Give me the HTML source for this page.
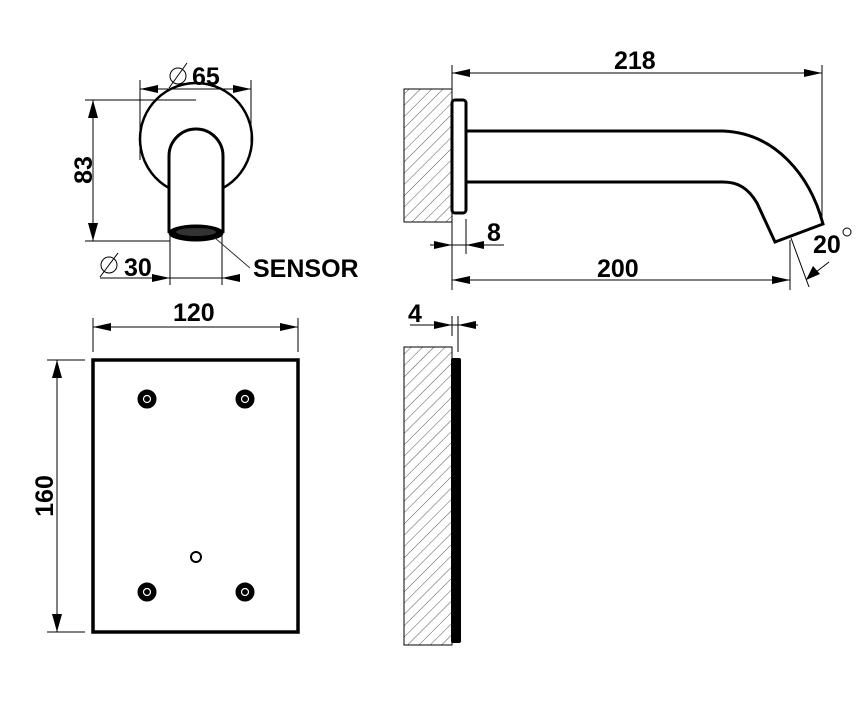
<!DOCTYPE html>
<html><head><meta charset="utf-8"><style>
html,body{margin:0;padding:0;background:#fff;}
svg{display:block;}
text{font-family:"Liberation Sans",sans-serif;font-weight:bold;fill:#000;}
</style></head><body>
<svg width="864" height="707" viewBox="0 0 864 707" xmlns="http://www.w3.org/2000/svg">
<defs>
<pattern id="h" width="8" height="8" patternUnits="userSpaceOnUse" patternTransform="rotate(45)">
<line x1="0" y1="0" x2="0" y2="8" stroke="#555" stroke-width="1"/>
</pattern>
</defs>
<g fill="none" stroke="#000">
<path d="M169,188 A56,56 0 1 1 223,188" stroke-width="2.5"/>
<path d="M169,233 L169,156 A27,27 0 0 1 223,156 L223,233" stroke-width="3"/>
<ellipse cx="196" cy="233" rx="27" ry="8" fill="#000" stroke-width="1"/>
<ellipse cx="196" cy="232" rx="20" ry="4" fill="#333" stroke="none"/>
<line x1="85" y1="100" x2="196" y2="100" stroke-width="1"/>
<line x1="85" y1="241" x2="170" y2="241" stroke-width="1"/>
<line x1="93" y1="100" x2="93" y2="241" stroke-width="1"/>
<line x1="140" y1="80" x2="140" y2="160" stroke-width="1"/>
<line x1="251" y1="80" x2="251" y2="150" stroke-width="1"/>
<line x1="140" y1="89" x2="251" y2="89" stroke-width="1"/>
<circle cx="178" cy="76" r="8" stroke-width="1"/>
<line x1="169" y1="88" x2="187" y2="63" stroke-width="1"/>
<line x1="170" y1="235" x2="170" y2="285" stroke-width="1"/>
<line x1="222" y1="235" x2="222" y2="285" stroke-width="1"/>
<line x1="100" y1="278" x2="240" y2="278" stroke-width="1"/>
<circle cx="109" cy="265" r="8" stroke-width="1"/>
<line x1="100" y1="277" x2="118" y2="253" stroke-width="1"/>
<path d="M215,238 L250,268" stroke-width="1" stroke="#333"/>
<rect x="404" y="89" width="48" height="133" fill="url(#h)" stroke-width="1"/>
<rect x="452" y="100" width="14" height="113" rx="3" fill="#fff" stroke-width="3"/>
<line x1="467" y1="131" x2="723" y2="131" stroke-width="3"/>
<line x1="467" y1="182" x2="723" y2="182" stroke-width="3"/>
<path d="M723,131 C775,133 810,175 823,224 L775,242 L757,203 C748,188 738,182 723,182" stroke-width="3"/>
<line x1="452" y1="65" x2="452" y2="100" stroke-width="1"/>
<line x1="822" y1="65" x2="822" y2="218" stroke-width="1"/>
<line x1="452" y1="73" x2="822" y2="73" stroke-width="1"/>
<line x1="466" y1="219" x2="466" y2="254" stroke-width="1"/>
<line x1="430" y1="245" x2="504" y2="245" stroke-width="1"/>
<line x1="452" y1="222" x2="452" y2="290" stroke-width="1"/>
<line x1="790" y1="240" x2="790" y2="290" stroke-width="1"/>
<line x1="452" y1="280" x2="790" y2="280" stroke-width="1"/>
<line x1="791" y1="238" x2="809" y2="287" stroke-width="1"/>
<line x1="807" y1="279" x2="829" y2="262" stroke-width="1"/>
<circle cx="847" cy="232" r="4" stroke-width="1"/>
<rect x="93" y="360" width="205" height="272" stroke-width="3.5"/>
<line x1="93" y1="318" x2="93" y2="352" stroke-width="1"/>
<line x1="298" y1="318" x2="298" y2="352" stroke-width="1"/>
<line x1="93" y1="327" x2="298" y2="327" stroke-width="1"/>
<line x1="47" y1="360" x2="85" y2="360" stroke-width="1"/>
<line x1="47" y1="632" x2="85" y2="632" stroke-width="1"/>
<line x1="57" y1="360" x2="57" y2="632" stroke-width="1"/>
<g stroke-width="1">
<circle cx="147" cy="399" r="9" fill="#000"/><circle cx="147" cy="399" r="3.5" stroke="#fff" stroke-width="1.2"/>
<circle cx="245" cy="399" r="9" fill="#000"/><circle cx="245" cy="399" r="3.5" stroke="#fff" stroke-width="1.2"/>
<circle cx="147" cy="592" r="9" fill="#000"/><circle cx="147" cy="592" r="3.5" stroke="#fff" stroke-width="1.2"/>
<circle cx="245" cy="592" r="9" fill="#000"/><circle cx="245" cy="592" r="3.5" stroke="#fff" stroke-width="1.2"/>
</g>
<circle cx="196" cy="557" r="5" stroke-width="2"/>
<rect x="404" y="347" width="48" height="298" fill="url(#h)" stroke-width="1"/>
<rect x="451" y="358" width="10" height="285" rx="2" fill="#000" stroke="none"/>
<line x1="452" y1="316" x2="452" y2="336" stroke-width="1"/>
<line x1="458" y1="316" x2="458" y2="352" stroke-width="1"/>
<line x1="410" y1="325" x2="478" y2="325" stroke-width="1"/>
</g>
<g fill="#000" stroke="none">
<polygon points="93,100 88,118 98,118"/><polygon points="93,241 88,223 98,223"/>
<polygon points="140,89 158,85 158,93"/><polygon points="251,89 233,85 233,93"/>
<polygon points="170,278 152,274 152,282"/><polygon points="222,278 240,274 240,282"/>
<polygon points="452,73 470,69 470,77"/><polygon points="822,73 804,69 804,77"/>
<polygon points="452,245 434,241 434,249"/><polygon points="466,245 484,241 484,249"/>
<polygon points="452,280 470,276 470,284"/><polygon points="790,280 772,276 772,284"/>
<polygon points="806,280 813,266 820,274"/>
<polygon points="93,327 111,323 111,331"/><polygon points="298,327 280,323 280,331"/>
<polygon points="57,360 52,378 62,378"/><polygon points="57,632 52,614 62,614"/>
<polygon points="452,325 434,321 434,329"/><polygon points="458,325 476,321 476,329"/>
</g>
<g font-size="25">
<text x="192" y="85">65</text>
<text x="124" y="276">30</text>
<text x="253" y="277">SENSOR</text>
<text x="614" y="69">218</text>
<text x="487" y="241">8</text>
<text x="597" y="277">200</text>
<text x="813" y="253">20</text>
<text x="173" y="321">120</text>
<text x="408" y="322">4</text>
<text transform="translate(92,170) rotate(-90)" text-anchor="middle">83</text>
<text transform="translate(53,496) rotate(-90)" text-anchor="middle">160</text>
</g>
</svg>
</body></html>
